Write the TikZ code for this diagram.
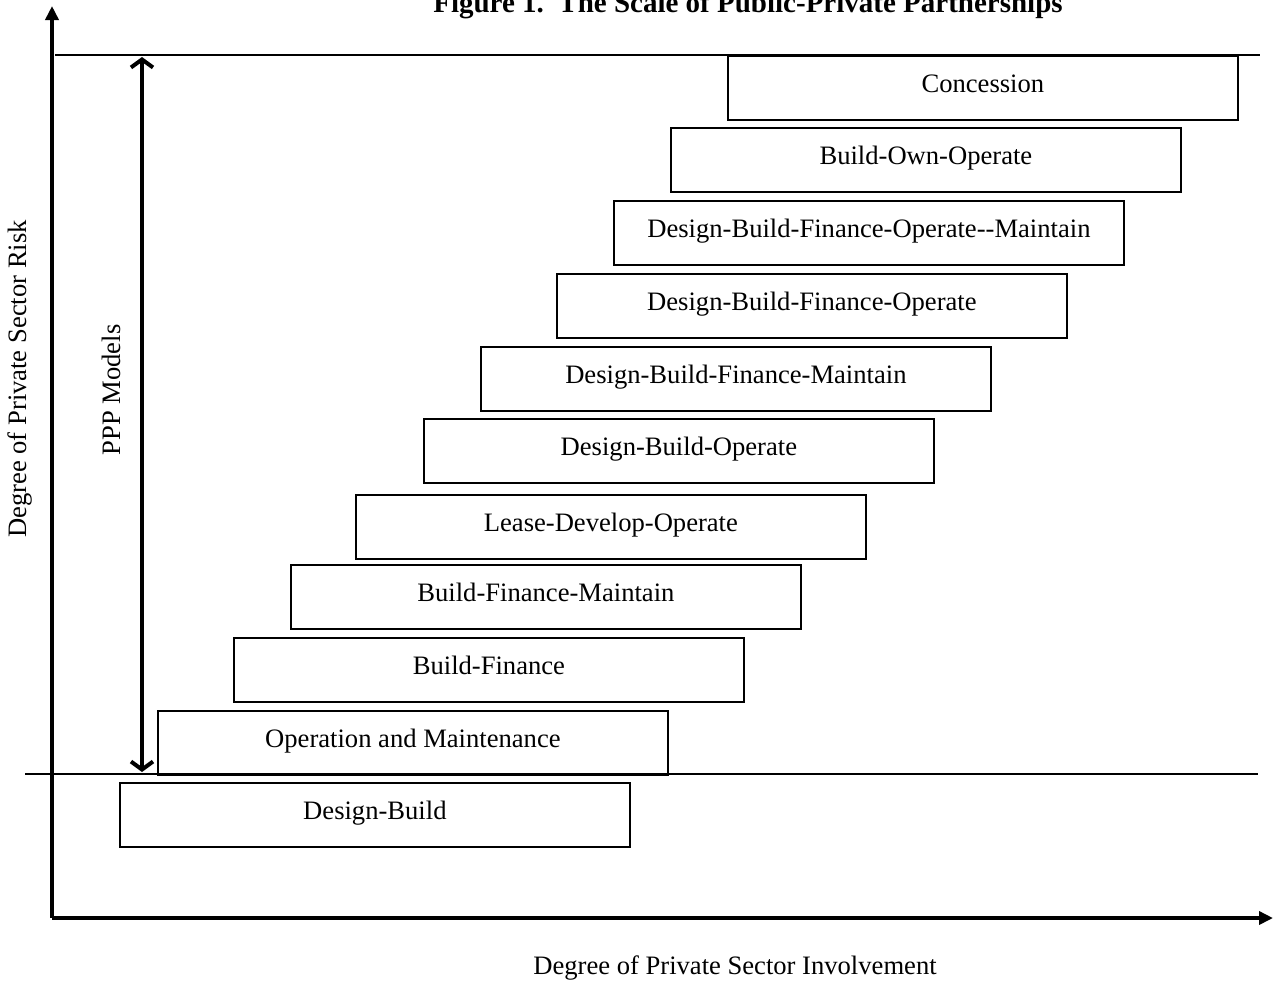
\documentclass[tikz,border=0pt]{standalone}
\usepackage{fontspec}
\setmainfont{Liberation Serif}
\usetikzlibrary{arrows.meta}
\begin{document}
\begin{tikzpicture}[x=1pt,y=-1pt,
  model/.style={draw, line width=1.8pt, minimum width=510pt, minimum height=64pt,
    anchor=north west, inner sep=0pt, text height=18pt, text depth=9pt,
    font=\fontsize{26.6}{32}\selectfont},
  axis/.style={line width=4pt, -{Triangle[length=14pt,width=13pt]}},
  band/.style={line width=1.5pt},
  lbl/.style={font=\fontsize{26.6}{32}\selectfont, inner sep=0pt}]
\clip (0,0) rectangle (1273,983);
\fill[white] (0,0) rectangle (1273,983);
% title
\node[lbl, font=\fontsize{29}{34}\selectfont\bfseries, anchor=base] (title) at (748,12) {Figure 1.\ \ The Scale of Public-Private Partnerships};
% band lines
\coordinate (t1) at (55,55); \coordinate (t2) at (1260,55);
\coordinate (b1) at (25,774); \coordinate (b2) at (1258,774);
\draw[band] (t1) -- (t2);
\draw[band] (b1) -- (b2);
% boxes
\node[model] (db)   at (119,782) {Design-Build};
\node[model] (om)   at (157,710) {Operation and Maintenance};
\node[model] (bf)   at (233,637) {Build-Finance};
\node[model] (bfm)  at (290,564) {Build-Finance-Maintain};
\node[model] (ldo)  at (355,494) {Lease-Develop-Operate};
\node[model] (dbo)  at (423,418) {Design-Build-Operate};
\node[model] (dbfm) at (480,346) {Design-Build-Finance-Maintain};
\node[model] (dbfo) at (556,273) {Design-Build-Finance-Operate};
\node[model] (dbfom) at (613,200) {Design-Build-Finance-Operate-{}-{}Maintain};
\node[model] (boo)  at (670,127) {Build-Own-Operate};
\node[model] (con)  at (727,55) {Concession};
% axes
\coordinate (o) at (52,918);
\coordinate (ytip) at (52,6);
\coordinate (xtip) at (1273,918);
\draw[axis] (o) -- (ytip);
\draw[axis] (o) -- (xtip);
% PPP arrow
\coordinate (p1) at (142,57); \coordinate (p2) at (142,772);
\draw[line width=4pt, {Straight Barb[length=8pt,width=22pt]}-{Straight Barb[length=8pt,width=22pt]}] (p1) -- (p2);
% labels
\node[lbl, rotate=90] (risk) at (20,379) {Degree of Private Sector Risk};
\node[lbl, rotate=90] (ppp) at (111,390) {PPP Models};
\node[lbl] (inv) at (735,968) {Degree of Private Sector Involvement};
\end{tikzpicture}
\end{document}
